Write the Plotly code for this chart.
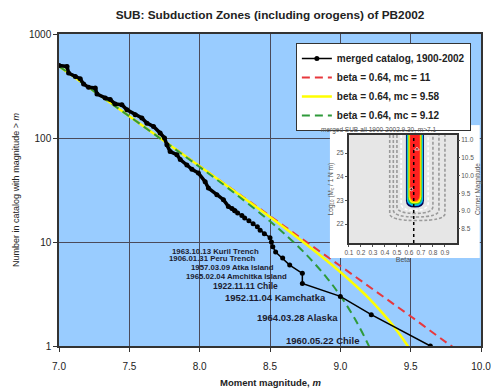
import plotly.graph_objects as go

# ---------------- data ----------------
cat_m = [7.00, 7.057, 7.068, 7.116, 7.151, 7.175, 7.210, 7.258, 7.270, 7.329, 7.364,
         7.400, 7.447, 7.483, 7.542, 7.589, 7.625, 7.672, 7.719, 7.750, 7.767, 7.790,
         7.838, 7.862, 7.909, 7.945, 7.991, 8.039, 8.062, 8.122, 8.169, 8.204, 8.23,
         8.25, 8.27, 8.30, 8.32, 8.35, 8.38, 8.41, 8.43, 8.46, 8.50, 8.51, 8.52,
         8.54, 8.59, 8.64, 8.73, 8.73, 9.00, 9.22, 9.64]
cat_n = [499, 488, 422, 391, 371, 330, 307, 303, 265, 243, 234,
         212, 209, 187, 167, 156, 139, 129, 112, 100, 86, 74,
         69, 62, 55, 50, 46, 38, 33, 28.5, 25.5, 22, 21,
         20, 19, 18, 17, 16, 15, 14, 13, 12, 11, 10, 9,
         8, 7, 6, 5, 4, 3, 2, 1]

red_m = [7.0, 7.25, 7.5, 7.75, 8.0, 8.25, 8.5, 8.75, 9.0, 9.25, 9.5, 9.75, 9.85]
red_n = [490, 282, 162, 93.3, 53.7, 30.9, 17.8, 10.2, 5.88, 3.37, 1.93, 1.09, 0.88]

yel_m = [7.0, 7.25, 7.5, 7.75, 8.0, 8.25, 8.5, 8.75, 9.0, 9.1, 9.2, 9.3, 9.4, 9.5, 9.55]
yel_n = [490, 282, 162, 93.2, 53.5, 30.6, 17.4, 9.67, 5.15, 3.90, 2.90, 2.07, 1.42, 0.91, 0.71]

grn_m = [7.0, 7.25, 7.5, 7.75, 8.0, 8.25, 8.5, 8.6, 8.75, 8.9, 9.0, 9.1, 9.2, 9.25]
grn_n = [490, 281, 161.6, 92.5, 52.6, 29.4, 15.8, 12.1, 7.75, 4.60, 3.04, 1.86, 1.02, 0.71]

series_names = ["merged catalog, 1900-2002", "beta = 0.64, mc = 11",
                "beta = 0.64, mc = 9.58", "beta = 0.64, mc = 9.12"]

event_labels = ["1963.10.13 Kuril Trench", "1906.01.31 Peru Trench",
                "1957.03.09 Atka Island", "1965.02.04 Amchitka Island",
                "1922.11.11 Chile", "1952.11.04 Kamchatka",
                "1964.03.28 Alaska", "1960.05.22 Chile"]

x_ticks = [7.0, 7.5, 8.0, 8.5, 9.0, 9.5, 10.0]
y_ticks = [1, 10, 100, 1000]

inset_beta_ticks = [0.1, 0.2, 0.3, 0.4, 0.5, 0.6, 0.7, 0.8, 0.9]
inset_logm_ticks = [22, 23, 24, 25]
inset_mc_ticks = [8.5, 9.0, 9.5, 10.0, 10.5, 11.0]
inset_beta = [0.64, 0.64]
inset_logm_span = [21.2, 25.76]
inset_marks_beta = [0.667, 0.62]
inset_marks_logm = [25.17, 23.47]

FONT = "Liberation Sans, Arial, sans-serif"

fig = go.Figure()

# model curves
fig.add_trace(go.Scatter(x=red_m, y=red_n, mode="lines", name=series_names[1], legendrank=2,
                         line=dict(color="#e8383d", width=2, dash="8px,5px", shape="spline")))
fig.add_trace(go.Scatter(x=yel_m, y=yel_n, mode="lines", name=series_names[2], legendrank=3,
                         line=dict(color="#ffff00", width=2.5, shape="spline")))
fig.add_trace(go.Scatter(x=grn_m, y=grn_n, mode="lines", name=series_names[3], legendrank=4,
                         line=dict(color="#2f9a3a", width=2, dash="8px,5px", shape="spline")))

# catalog (dense upper part drawn thicker)
split = cat_n.index(20)
fig.add_trace(go.Scatter(x=cat_m[:split + 1], y=cat_n[:split + 1], mode="lines+markers",
                         showlegend=False, hoverinfo="skip",
                         line=dict(color="black", width=3.5),
                         marker=dict(color="black", size=5)))
fig.add_trace(go.Scatter(x=cat_m[split:], y=cat_n[split:], mode="lines+markers",
                         name=series_names[0], legendrank=1,
                         line=dict(color="black", width=1.5),
                         marker=dict(color="black", size=5)))

# white box subplot behind the inset
fig.add_trace(go.Scatter(x=[None], y=[None], xaxis="x2", yaxis="y2", showlegend=False,
                         hoverinfo="skip"))
# inset traces
fig.add_trace(go.Scatter(x=inset_beta, y=inset_logm_span, xaxis="x3", yaxis="y3",
                         mode="lines", showlegend=False, hoverinfo="skip",
                         line=dict(color="black", width=1.5, dash="dot")))
fig.add_trace(go.Scatter(x=inset_marks_beta, y=inset_marks_logm, xaxis="x3", yaxis="y3",
                         mode="markers", showlegend=False, hoverinfo="skip",
                         marker=dict(color="black", size=[4, 3],
                                     symbol=["triangle-up", "circle"])))
fig.add_trace(go.Scatter(x=[None], y=[None], xaxis="x3", yaxis="y4", showlegend=False,
                         hoverinfo="skip"))

shapes = []
# light blue plot background (below grid)
shapes.append(dict(type="rect", xref="paper", yref="paper", x0=0, x1=1, y0=0, y1=1,
                   layer="below", fillcolor="#99ccff", line=dict(width=0)))
# inset grey background
shapes.append(dict(type="rect", xref="x3", yref="y3", x0=0.1, x1=1.0, y0=21.2, y1=25.76,
                   layer="below", fillcolor="#e6e6e6", line=dict(width=0)))


def u_path(xl, xr, yb, top=25.76, r=0.3):
    xm = (xl + xr) / 2
    return (f"M {xl},{top} L {xl},{yb + r} Q {xl},{yb} {xm},{yb} "
            f"Q {xr},{yb} {xr},{yb + r} L {xr},{top}")


# dashed contours
for xl, xr, yb, col in [(0.44, 0.90, 22.15, "#9a9a9a"), (0.47, 0.85, 22.3, "#9a9a9a"),
                        (0.50, 0.80, 22.45, "#9a9a9a"), (0.535, 0.76, 22.58, "#ffffff")]:
    shapes.append(dict(type="path", xref="x3", yref="y3", layer="below",
                       path=u_path(xl, xr, yb),
                       line=dict(color=col, width=1.6, dash="3px,2px")))
# coloured likelihood band
for xl, xr, yb, col in [(0.575, 0.725, 22.70, "#000050"), (0.582, 0.718, 22.76, "#00b8ff"),
                        (0.590, 0.710, 22.82, "#40d040"), (0.597, 0.703, 22.88, "#ffff00"),
                        (0.603, 0.697, 22.93, "#ff9900"), (0.610, 0.690, 22.98, "#ff2020")]:
    shapes.append(dict(type="path", xref="x3", yref="y3", layer="below",
                       path=u_path(xl, xr, yb) + " Z", fillcolor=col, line=dict(width=0)))

annotations = []
label_pos = [(8.437, 0.907, 7.8), (8.409, 0.839, 7.8), (8.543, 0.753, 7.8), (8.635, 0.666, 7.8),
             (8.572, 0.58, 8.5), (8.913, 0.464, 9.5), (8.998, 0.272, 9.5), (9.147, 0.051, 9.5)]
for txt, (lx, ly, fs) in zip(event_labels, label_pos):
    annotations.append(dict(text=f"<b>{txt}</b>", x=lx, y=ly, xref="x", yref="y",
                            xanchor="right", yanchor="middle", showarrow=False,
                            font=dict(family=FONT, size=fs, color="#1c1c30")))
annotations.append(dict(text="merged SUB-all 1900-2002.9.30, m>7.1", x=0.756, y=0.692,
                        xref="paper", yref="paper", xanchor="center", yanchor="middle",
                        showarrow=False, font=dict(family=FONT, size=6.5, color="#555")))
# x axis title
annotations.append(dict(text="<b>Moment magnitude, <i>m</i></b>", x=0.5, y=-0.1154,
                        xref="paper", yref="paper", xanchor="center", yanchor="middle",
                        showarrow=False, font=dict(family=FONT, size=9.5, color="#222")))

axis_common = dict(showline=True, linecolor="#333", linewidth=1.5, mirror=True,
                   showgrid=True, gridcolor="#4a4a5a", gridwidth=1, zeroline=False,
                   ticks="outside", ticklen=4, tickcolor="#333", automargin=False,
                   ticklabeloverflow="allow",
                   tickfont=dict(family=FONT, size=10, color="#222"))

small_font = dict(family=FONT, size=6.5, color="#555")
inset_common = dict(showgrid=False, zeroline=False, ticks="outside", ticklen=2,
                    tickcolor="#555", tickfont=small_font, automargin=False)

fig.update_layout(
    template="none",
    width=491, height=391,
    margin=dict(l=59, r=10, t=34, b=45),
    paper_bgcolor="white", plot_bgcolor="white",
    font=dict(family=FONT, color="#222"),
    title=dict(text="<b>SUB: Subduction Zones (including orogens) of PB2002</b>",
               x=0.5, xref="paper", xanchor="center", y=1 - 15 / 391, yref="container",
               yanchor="middle", font=dict(family=FONT, size=11.8, color="#222")),
    xaxis=dict(range=[7, 10], tickvals=x_ticks, ticktext=[f"{v:.1f}" for v in x_ticks],
               ticklabelstandoff=6, **axis_common),
    yaxis=dict(type="log", range=[0, 3], tickvals=y_ticks, ticktext=[str(v) for v in y_ticks],
               title=dict(text="Number in catalog with magnitude &gt; <i>m</i>", standoff=8,
                          font=dict(family=FONT, size=9, color="#222")),
               **axis_common),
    xaxis2=dict(domain=[0.642, 0.997], anchor="y2", range=[0, 1], visible=False),
    yaxis2=dict(domain=[0.282, 0.708], anchor="x2", range=[0, 1], visible=False),
    xaxis3=dict(domain=[0.687, 0.943], anchor="y3", range=[0.1, 1.0],
                tickvals=inset_beta_ticks, ticktext=[f"{v:.1f}" for v in inset_beta_ticks],
                showline=True, linecolor="#333", linewidth=2, mirror=True,
                title=dict(text="Beta", standoff=2, font=dict(family=FONT, size=7, color="#555")),
                **inset_common),
    yaxis3=dict(domain=[0.330, 0.676], anchor="x3", range=inset_logm_span,
                tickvals=inset_logm_ticks, showline=True, linecolor="#333", linewidth=2,
                mirror=True,
                title=dict(text="Log<sub>10</sub> (M<sub>c</sub> / 1 N m)", standoff=2,
                           font=dict(family=FONT, size=6.5, color="#555")),
                **inset_common),
    yaxis4=dict(overlaying="y3", anchor="x3", side="right", range=[8.1, 11.14],
                tickvals=inset_mc_ticks, ticktext=[f"{v:.1f}" for v in inset_mc_ticks],
                title=dict(text="Corner Magnitude", standoff=2,
                           font=dict(family=FONT, size=6.5, color="#555")),
                **inset_common),
    legend=dict(x=0.976, y=0.971, xanchor="right", yanchor="top", bgcolor="white",
                bordercolor="#333", borderwidth=1, traceorder="normal",
                font=dict(family=FONT, size=10, color="#222", weight="bold"),
                itemwidth=30, tracegroupgap=0),
    shapes=shapes,
    annotations=annotations,
    showlegend=True,
)

fig.write_html("out.html")
